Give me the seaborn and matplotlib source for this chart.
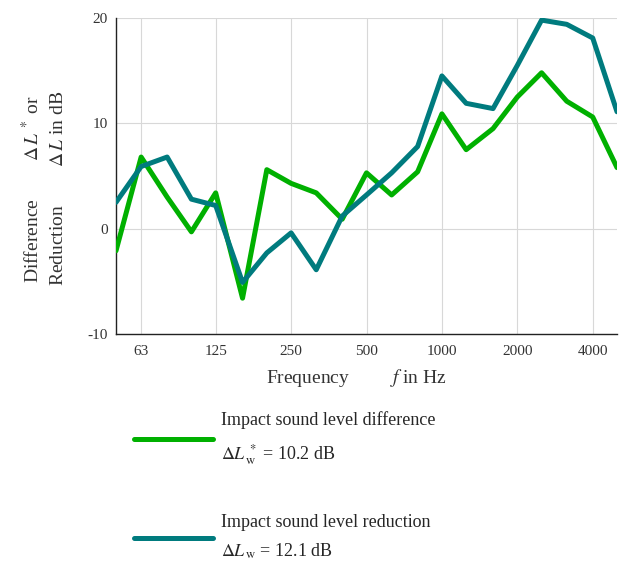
import matplotlib
matplotlib.use("Agg")
import matplotlib.pyplot as plt
import seaborn as sns
import pandas as pd

freqs = [50, 63, 80, 100, 125, 160, 200, 250, 315, 400, 500, 630, 800,
         1000, 1250, 1600, 2000, 2500, 3150, 4000, 5000]
difference = [-2.1, 6.8, 3.0, -0.3, 3.4, -6.6, 5.6, 4.3, 3.4, 0.9, 5.3, 3.2,
              5.4, 10.9, 7.5, 9.5, 12.5, 14.8, 12.1, 10.6, 5.8]
reduction = [2.5, 5.9, 6.8, 2.8, 2.2, -5.1, -2.3, -0.4, -3.9, 1.2, 3.2, 5.3,
             7.8, 14.5, 11.9, 11.4, 15.5, 19.8, 19.4, 18.1, 11.1]
tick_freqs = [63, 125, 250, 500, 1000, 2000, 4000]
tick_labels = ["63", "125", "250", "500", "1000", "2000", "4000"]
y_ticks = [-10, 0, 10, 20]
label_diff = "Impact sound level difference\n$\\Delta L^{\\,*}_{\\,\\mathrm{w}}$ = 10.2 dB"
label_red = "Impact sound level reduction\n$\\Delta L_{\\,\\mathrm{w}}$ = 12.1 dB"

df = pd.DataFrame({
    "f": freqs * 2,
    "value": difference + reduction,
    "series": [label_diff] * len(freqs) + [label_red] * len(freqs),
})

sns.set_theme(style="white")
plt.rcParams["font.family"] = ["Liberation Serif", "DejaVu Serif"]
plt.rcParams["mathtext.fontset"] = "stix"
plt.rcParams["axes.unicode_minus"] = False

fig = plt.figure(figsize=(6.21, 5.64), dpi=100)
ax = fig.add_axes([116 / 621, 1 - 334 / 564, 501 / 621, 316 / 564])

palette = {label_diff: "#00B000", label_red: "#007B7E"}
sns.lineplot(data=df, x="f", y="value", hue="series", palette=palette,
             linewidth=3.6, ax=ax, legend=False, zorder=3)

ax.set_xscale("log")
ax.set_xlim(50, 5000)
ax.set_ylim(-10, 20)
ax.set_xticks(tick_freqs)
ax.set_xticklabels(tick_labels)
ax.xaxis.set_minor_locator(matplotlib.ticker.NullLocator())
ax.set_yticks(y_ticks)
ax.set_yticklabels([str(v) for v in y_ticks])

ax.grid(True, color="#d8d8d8", linewidth=0.8, zorder=0)
for s in ["top", "right"]:
    ax.spines[s].set_visible(False)
for s in ["left", "bottom"]:
    ax.spines[s].set_color("#222222")
    ax.spines[s].set_linewidth(1.0)
ax.tick_params(axis="both", direction="in", length=5, width=0.8,
               colors="#222222", labelsize=11, labelcolor="#333333")
ax.tick_params(axis="x", pad=8)
ax.tick_params(axis="y", pad=6)

ax.set_xlabel("Frequency         $f$ in Hz", fontsize=14, color="#333333")
ax.xaxis.set_label_coords(0.479, -0.105)
ax.set_ylabel("Difference        $\\Delta\\,L^{\\,*}$ or\nReduction        $\\Delta\\,L$ in dB",
              fontsize=14, color="#333333", linespacing=1.6)
ax.yaxis.set_label_coords(-0.097, 0.46)

handles = ax.get_lines()[:2]
leg = fig.legend(handles, [label_diff, label_red], loc="upper left",
                 bbox_to_anchor=(134 / 621, 1 - 411 / 564), frameon=False,
                 fontsize=13, handlelength=4.4, handletextpad=0.4,
                 labelspacing=2.6, borderpad=0, borderaxespad=0)
for t in leg.get_texts():
    t.set_linespacing(1.75)

fig.savefig("out.png", dpi=100)
